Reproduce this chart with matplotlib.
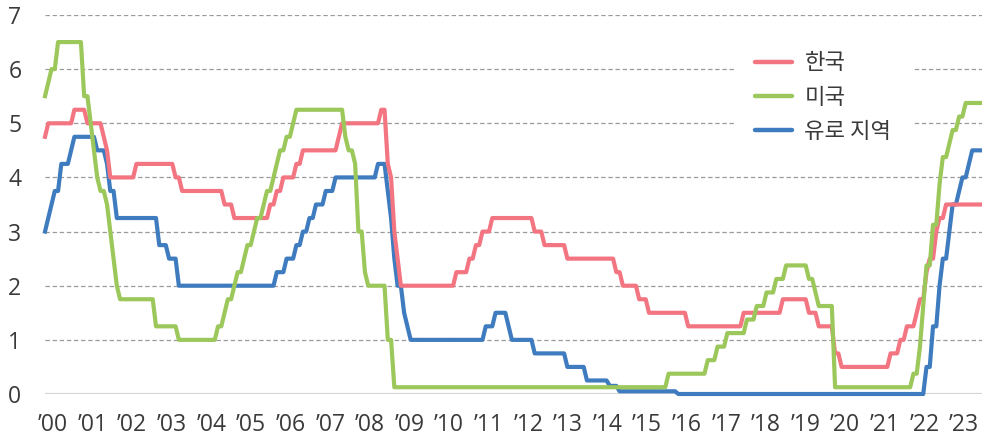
import numpy as np
import pandas as pd
import matplotlib
matplotlib.use("Agg")
import matplotlib.pyplot as plt

# ---- Data: policy rates (%), month in which each new level takes effect ----
korea_changes = [
    ("2000-01", 4.75), ("2000-02", 5.00), ("2000-10", 5.25), ("2001-02", 5.00),
    ("2001-07", 4.75), ("2001-08", 4.50), ("2001-09", 4.00), ("2002-05", 4.25),
    ("2003-05", 4.00), ("2003-07", 3.75), ("2004-08", 3.50), ("2004-11", 3.25),
    ("2005-10", 3.50), ("2005-12", 3.75), ("2006-02", 4.00), ("2006-06", 4.25),
    ("2006-08", 4.50), ("2007-07", 4.75), ("2007-08", 5.00), ("2008-08", 5.25),
    ("2008-10", 4.25), ("2008-11", 4.00), ("2008-12", 3.00), ("2009-01", 2.50),
    ("2009-02", 2.00), ("2010-07", 2.25), ("2010-11", 2.50), ("2011-01", 2.75),
    ("2011-03", 3.00), ("2011-06", 3.25), ("2012-07", 3.00), ("2012-10", 2.75),
    ("2013-05", 2.50), ("2014-08", 2.25), ("2014-10", 2.00), ("2015-03", 1.75),
    ("2015-06", 1.50), ("2016-06", 1.25), ("2017-11", 1.50), ("2018-11", 1.75),
    ("2019-07", 1.50), ("2019-10", 1.25), ("2020-03", 0.75), ("2020-05", 0.50),
    ("2021-08", 0.75), ("2021-11", 1.00), ("2022-01", 1.25), ("2022-04", 1.50),
    ("2022-05", 1.75), ("2022-07", 2.25), ("2022-08", 2.50), ("2022-10", 3.00),
    ("2022-11", 3.25), ("2023-01", 3.50),
]
us_changes = [
    ("2000-01", 5.50), ("2000-02", 5.75), ("2000-03", 6.00), ("2000-05", 6.50),
    ("2001-01", 5.50), ("2001-03", 5.00), ("2001-04", 4.50), ("2001-05", 4.00),
    ("2001-06", 3.75), ("2001-08", 3.50), ("2001-09", 3.00), ("2001-10", 2.50),
    ("2001-11", 2.00), ("2001-12", 1.75), ("2002-11", 1.25), ("2003-06", 1.00),
    ("2004-06", 1.25), ("2004-08", 1.50), ("2004-09", 1.75), ("2004-11", 2.00),
    ("2004-12", 2.25), ("2005-02", 2.50), ("2005-03", 2.75), ("2005-05", 3.00),
    ("2005-06", 3.25), ("2005-08", 3.50), ("2005-09", 3.75), ("2005-11", 4.00),
    ("2005-12", 4.25), ("2006-01", 4.50), ("2006-03", 4.75), ("2006-05", 5.00),
    ("2006-06", 5.25), ("2007-09", 4.75), ("2007-10", 4.50), ("2007-12", 4.25),
    ("2008-01", 3.00), ("2008-03", 2.25), ("2008-04", 2.00), ("2008-10", 1.00),
    ("2008-12", 0.125), ("2015-12", 0.375), ("2016-12", 0.625), ("2017-03", 0.875),
    ("2017-06", 1.125), ("2017-12", 1.375), ("2018-03", 1.625), ("2018-06", 1.875),
    ("2018-09", 2.125), ("2018-12", 2.375), ("2019-07", 2.125), ("2019-09", 1.875),
    ("2019-10", 1.625), ("2020-03", 0.125), ("2022-03", 0.375), ("2022-05", 0.875),
    ("2022-06", 1.625), ("2022-07", 2.375), ("2022-09", 3.125), ("2022-11", 3.875),
    ("2022-12", 4.375), ("2023-02", 4.625), ("2023-03", 4.875), ("2023-05", 5.125),
    ("2023-07", 5.375),
]
euro_changes = [
    ("2000-01", 3.00), ("2000-02", 3.25), ("2000-03", 3.50), ("2000-04", 3.75),
    ("2000-06", 4.25), ("2000-09", 4.50), ("2000-10", 4.75), ("2001-05", 4.50),
    ("2001-08", 4.25), ("2001-09", 3.75), ("2001-11", 3.25), ("2002-12", 2.75),
    ("2003-03", 2.50), ("2003-06", 2.00), ("2005-12", 2.25), ("2006-03", 2.50),
    ("2006-06", 2.75), ("2006-08", 3.00), ("2006-10", 3.25), ("2006-12", 3.50),
    ("2007-03", 3.75), ("2007-06", 4.00), ("2008-07", 4.25), ("2008-10", 3.75),
    ("2008-11", 3.25), ("2008-12", 2.50), ("2009-01", 2.00), ("2009-03", 1.50),
    ("2009-04", 1.25), ("2009-05", 1.00), ("2011-04", 1.25), ("2011-07", 1.50),
    ("2011-11", 1.25), ("2011-12", 1.00), ("2012-07", 0.75), ("2013-05", 0.50),
    ("2013-11", 0.25), ("2014-06", 0.15), ("2014-09", 0.05), ("2016-03", 0.00),
    ("2022-07", 0.50), ("2022-09", 1.25), ("2022-11", 2.00), ("2022-12", 2.50),
    ("2023-02", 3.00), ("2023-03", 3.50), ("2023-05", 3.75), ("2023-06", 4.00),
    ("2023-08", 4.25), ("2023-09", 4.50),
]
series_names = ["한국", "미국", "유로 지역"]
year_labels = ["’%02d" % y for y in range(0, 24)]
y_ticks = [0, 1, 2, 3, 4, 5, 6, 7]

months = pd.period_range("2000-01", "2023-12", freq="M")

def monthly(changes):
    s = pd.Series({pd.Period(m, freq="M"): v for m, v in changes})
    return s.reindex(months).ffill()

korea = monthly(korea_changes)
us = monthly(us_changes)
euro = monthly(euro_changes)
x = np.array([p.year + (p.month - 1) / 12.0 for p in months])

# ---- Figure ----
W, H = 982, 444
fig = plt.figure(figsize=(W / 100, H / 100), dpi=100)
left, right, top, bottom = 45, 982, 15, 394
ax = fig.add_axes([left / W, 1 - bottom / H, (right - left) / W, (bottom - top) / H])

red, green, blue = "#F27581", "#9CC75A", "#3F7CBF"
text_color = "#3a3a3a"

# gridlines
for v in y_ticks[1:]:
    ax.axhline(v, color="#9a9a9a", lw=0.9, ls=(0, (3.5, 2.2)), zorder=1)
ax.axhline(0, color="#d6d6d6", lw=1.6, zorder=1)

lw = 3.0
lb, = ax.plot(x, euro.values, color=blue, lw=lw, zorder=3, clip_on=False, solid_joinstyle="round")
lr, = ax.plot(x, korea.values, color=red, lw=lw, zorder=4, clip_on=False, solid_joinstyle="round")
lg, = ax.plot(x, us.values, color=green, lw=lw, zorder=5, clip_on=False, solid_joinstyle="round")

ax.set_xlim(x[0], x[-1])
ax.set_ylim(0, 7)
for s in ax.spines.values():
    s.set_visible(False)

ax.set_yticks(y_ticks)
ax.set_yticklabels([str(v) for v in y_ticks])
xt = np.linspace(2000 + 2.45 / 12, 2000 + 281.5 / 12, len(year_labels))
ax.set_xticks(xt)
ax.set_xticklabels(year_labels)
ax.tick_params(axis="both", length=0, colors=text_color, labelsize=16.5)
ax.tick_params(axis="y", pad=17)
ax.tick_params(axis="x", pad=14)
for t in ax.get_xticklabels() + ax.get_yticklabels():
    t.set_fontfamily(["Open Sans", "DejaVu Sans"])

handles = []
for c in (red, green, blue):
    h, = ax.plot([], [], color=c, lw=3.2, solid_capstyle="round")
    handles.append(h)
leg = ax.legend(handles, series_names, loc="center",
                bbox_to_anchor=(823 / W, 1 - 97 / H), bbox_transform=fig.transFigure,
                frameon=True, facecolor="white", edgecolor="none", framealpha=1,
                fancybox=False, handlelength=1.7, handletextpad=0.55,
                labelspacing=0.5, borderpad=0.9,
                prop={"family": ["Noto Sans CJK KR", "DejaVu Sans"], "size": 16})
leg.set_zorder(6)
for t in leg.get_texts():
    t.set_color(text_color)

fig.savefig("out.png", dpi=100, facecolor="white")
